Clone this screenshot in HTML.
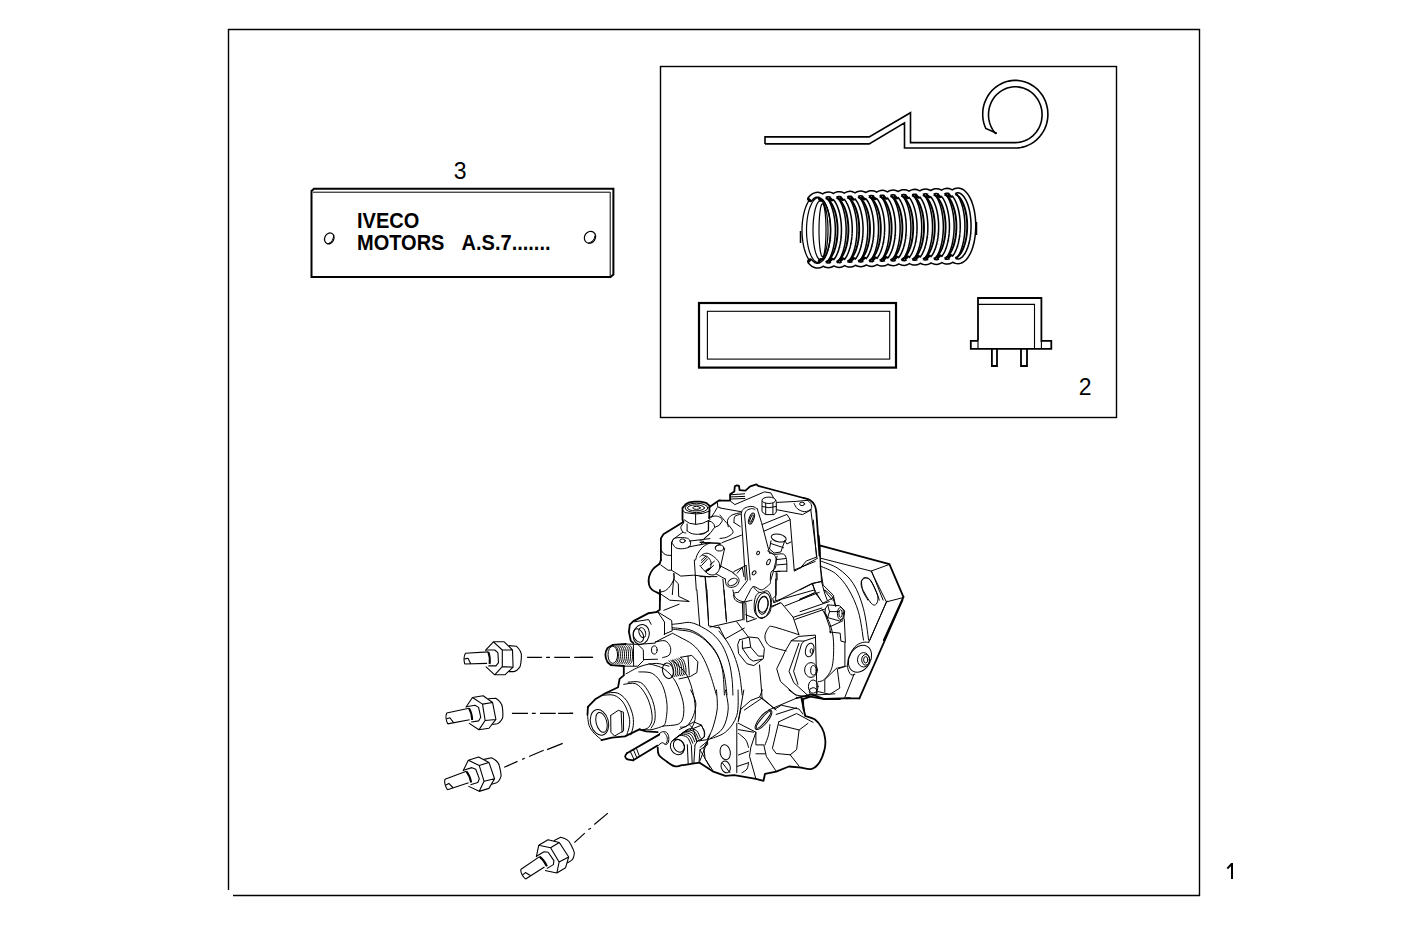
<!DOCTYPE html>
<html><head><meta charset="utf-8"><style>
html,body{margin:0;padding:0;background:#fff;}
body{width:1418px;height:945px;overflow:hidden;position:relative;}
svg{position:absolute;left:0;top:0;}
text{font-family:"Liberation Sans",sans-serif;}
</style></head><body>
<svg width="1418" height="945" viewBox="0 0 1418 945">
<g fill="none" stroke="#000" stroke-width="1.4" stroke-linejoin="miter">
<!-- outer frame -->
<path d="M228.5 890 V29.5 H1199.5 V895.5 H233"/>
<!-- box 2 -->
<rect x="660.5" y="66.5" width="456" height="351"/>
</g>
<g font-family="Liberation Sans" font-size="23" fill="#000">
<text x="1078.8" y="394.8">2</text>
<text x="453.8" y="178.7">3</text>
</g>
<path d="M1231 863 H1233 V879 H1231 Z" fill="#000"/>
<path d="M1227.3 868.6 L1231.6 864" stroke="#000" stroke-width="2" fill="none"/>

<!-- box2 contents -->
<g fill="none" stroke="#000" stroke-width="1.6" stroke-linejoin="miter">
<path d="M765 143.9 V136.9 H869.2 L910.5 112.7 V142.6 H1015.3 L1015.3 142.6 L1017.7 142.5 L1020.1 142.1 L1022.5 141.6 L1024.8 140.8 L1027.0 139.8 L1029.2 138.6 L1031.2 137.2 L1033.1 135.6 L1034.8 133.8 L1036.4 131.9 L1037.8 129.8 L1039.1 127.6 L1040.1 125.3 L1040.9 123.0 L1041.5 120.5 L1041.9 118.0 L1042.1 115.5 L1042.0 112.9 L1041.8 110.4 L1041.3 108.0 L1040.6 105.5 L1039.7 103.2 L1038.6 100.9 L1037.3 98.8 L1035.8 96.8 L1034.2 94.9 L1032.4 93.2 L1030.4 91.7 L1028.4 90.3 L1026.2 89.2 L1023.9 88.3 L1021.6 87.6 L1019.2 87.1 L1016.8 86.8 L1014.4 86.8 L1011.9 87.0 L1009.5 87.5 L1007.2 88.1 L1004.9 89.0 L1002.7 90.1 L1000.6 91.4 L998.7 92.8 L996.8 94.5 L995.1 96.3 L993.6 98.3 L992.3 100.4 L991.1 102.6 L990.2 105.0 L989.4 107.4 L988.9 109.9 L988.6 112.4 L988.5 114.9 L988.6 117.4 L989.0 119.9 L989.5 122.4 L990.3 124.8 L991.3 127.1 L992.5 129.3 L993.8 131.4 L995.4 133.4 L996.7 133.3"/>
<path d="M765 143.9 H869.2 L904.5 122.8 V148 H1015.3 L1015.3 148.0 L1018.1 147.9 L1020.9 147.5 L1023.6 146.9 L1026.3 146.0 L1028.9 144.9 L1031.4 143.6 L1033.7 142.1 L1036.0 140.3 L1038.0 138.4 L1040.0 136.3 L1041.7 134.0 L1043.2 131.6 L1044.6 129.1 L1045.7 126.4 L1046.6 123.7 L1047.3 120.8 L1047.7 118.0 L1047.9 115.1 L1047.8 112.2 L1047.6 109.3 L1047.0 106.5 L1046.3 103.7 L1045.3 100.9 L1044.1 98.3 L1042.7 95.8 L1041.0 93.5 L1039.2 91.3 L1037.3 89.2 L1035.1 87.4 L1032.8 85.7 L1030.4 84.2 L1027.9 83.0 L1025.2 82.0 L1022.5 81.2 L1019.8 80.7 L1017.0 80.4 L1014.2 80.4 L1011.4 80.6 L1008.7 81.1 L1006.0 81.8 L1003.3 82.8 L1000.8 84.0 L998.3 85.4 L996.0 87.0 L993.8 88.8 L991.8 90.8 L989.9 93.0 L988.3 95.3 L986.8 97.8 L985.6 100.4 L984.5 103.1 L983.7 105.8 L983.1 108.7 L982.8 111.5 L982.7 114.4 L982.8 117.3 L983.2 120.2 L983.8 123.0 L984.7 125.8 L985.8 128.5 L996.7 133.3"/>
</g>
<g fill="none" stroke="#000" stroke-width="1.5">
<path d="M817.50 265.70 L816.28 265.59 L815.08 265.26 L813.88 264.72 L812.71 263.96 L811.57 263.00 L810.46 261.83 L809.40 260.47 L808.39 258.92 L807.43 257.19 L806.54 255.30 L805.71 253.26 L804.96 251.07 L804.28 248.75 L803.69 246.32 L803.18 243.79 L802.76 241.17 L802.43 238.49 L802.19 235.75 L802.05 232.99 L802.00 230.20 L802.05 227.41 L802.19 224.65 L802.43 221.91 L802.76 219.23 L803.18 216.61 L803.69 214.08 L804.28 211.65 L804.96 209.33 L805.71 207.14 L806.54 205.10 L807.43 203.21 L808.39 201.48 L809.40 199.93 L810.46 198.57 L811.57 197.40 L812.71 196.44 L813.88 195.68 L815.08 195.14 L816.28 194.81 L817.50 194.70" fill="#fff" stroke="#000" stroke-width="1.3"/>
<path d="M810.22 198.86 L811.67 197.31 L813.18 196.11 L814.73 195.27 L816.31 194.80 L817.91 194.71 L819.50 195.00 L821.07 195.65 L822.60 196.67 L824.08 198.05 L825.48 199.77 L826.81 201.81 L828.03 204.15 L829.14 206.77 L830.13 209.64 L830.99 212.72 L831.70 215.99 L832.27 219.41 L832.67 222.94 L832.92 226.55 L833.00 230.20 L832.92 233.85 L832.67 237.46 L832.27 240.99 L831.70 244.41 L830.99 247.68 L830.13 250.76 L829.14 253.63 L828.03 256.25 L826.81 258.59 L825.48 260.63 L824.08 262.35 L822.60 263.73 L821.07 264.75 L819.50 265.40 L817.91 265.69 L816.31 265.60 L814.73 265.13 L813.18 264.29 L811.67 263.09 L810.22 261.54 M821.02 198.52 L822.47 196.98 L823.98 195.78 L825.53 194.94 L827.11 194.47 L828.71 194.38 L830.30 194.66 L831.87 195.32 L833.40 196.34 L834.88 197.72 L836.28 199.44 L837.61 201.48 L838.83 203.82 L839.94 206.44 L840.93 209.30 L841.79 212.39 L842.50 215.66 L843.07 219.08 L843.47 222.61 L843.72 226.22 L843.80 229.87 L843.72 233.52 L843.47 237.13 L843.07 240.66 L842.50 244.08 L841.79 247.35 L840.93 250.43 L839.94 253.30 L838.83 255.92 L837.61 258.26 L836.28 260.30 L834.88 262.02 L833.40 263.39 L831.87 264.42 L830.30 265.07 L828.71 265.36 L827.11 265.26 L825.53 264.80 L823.98 263.96 L822.47 262.76 L821.02 261.21 M831.82 198.19 L833.27 196.65 L834.78 195.45 L836.33 194.61 L837.91 194.14 L839.51 194.05 L841.10 194.33 L842.67 194.99 L844.20 196.01 L845.68 197.39 L847.08 199.11 L848.41 201.15 L849.63 203.49 L850.74 206.11 L851.73 208.97 L852.59 212.06 L853.30 215.33 L853.87 218.75 L854.27 222.28 L854.52 225.89 L854.60 229.54 L854.52 233.19 L854.27 236.80 L853.87 240.33 L853.30 243.75 L852.59 247.02 L851.73 250.10 L850.74 252.97 L849.63 255.59 L848.41 257.93 L847.08 259.97 L845.68 261.69 L844.20 263.06 L842.67 264.09 L841.10 264.74 L839.51 265.03 L837.91 264.93 L836.33 264.47 L834.78 263.63 L833.27 262.43 L831.82 260.88 M842.62 197.86 L844.07 196.32 L845.58 195.12 L847.13 194.28 L848.71 193.81 L850.31 193.72 L851.90 194.00 L853.47 194.66 L855.00 195.68 L856.48 197.06 L857.88 198.78 L859.21 200.82 L860.43 203.16 L861.54 205.78 L862.53 208.64 L863.39 211.73 L864.10 215.00 L864.67 218.41 L865.07 221.95 L865.32 225.56 L865.40 229.21 L865.32 232.86 L865.07 236.47 L864.67 240.00 L864.10 243.42 L863.39 246.69 L862.53 249.77 L861.54 252.64 L860.43 255.26 L859.21 257.60 L857.88 259.64 L856.48 261.36 L855.00 262.73 L853.47 263.76 L851.90 264.41 L850.31 264.70 L848.71 264.60 L847.13 264.14 L845.58 263.30 L844.07 262.10 L842.62 260.55 M853.42 197.53 L854.87 195.99 L856.38 194.79 L857.93 193.95 L859.51 193.48 L861.11 193.39 L862.70 193.67 L864.27 194.33 L865.80 195.35 L867.28 196.73 L868.68 198.45 L870.01 200.49 L871.23 202.83 L872.34 205.45 L873.33 208.31 L874.19 211.40 L874.90 214.66 L875.47 218.08 L875.87 221.62 L876.12 225.23 L876.20 228.88 L876.12 232.53 L875.87 236.14 L875.47 239.67 L874.90 243.09 L874.19 246.36 L873.33 249.44 L872.34 252.31 L871.23 254.92 L870.01 257.27 L868.68 259.31 L867.28 261.02 L865.80 262.40 L864.27 263.42 L862.70 264.08 L861.11 264.36 L859.51 264.27 L857.93 263.80 L856.38 262.97 L854.87 261.77 L853.42 260.22 M864.22 197.20 L865.67 195.65 L867.18 194.46 L868.73 193.62 L870.31 193.15 L871.91 193.06 L873.50 193.34 L875.07 194.00 L876.60 195.02 L878.08 196.40 L879.48 198.12 L880.81 200.16 L882.03 202.50 L883.14 205.12 L884.13 207.98 L884.99 211.07 L885.70 214.33 L886.27 217.75 L886.67 221.29 L886.92 224.90 L887.00 228.55 L886.92 232.20 L886.67 235.81 L886.27 239.34 L885.70 242.76 L884.99 246.03 L884.13 249.11 L883.14 251.98 L882.03 254.59 L880.81 256.93 L879.48 258.98 L878.08 260.69 L876.60 262.07 L875.07 263.09 L873.50 263.75 L871.91 264.03 L870.31 263.94 L868.73 263.47 L867.18 262.64 L865.67 261.44 L864.22 259.89 M875.02 196.87 L876.47 195.32 L877.98 194.12 L879.53 193.29 L881.11 192.82 L882.71 192.73 L884.30 193.01 L885.87 193.67 L887.40 194.69 L888.88 196.07 L890.28 197.79 L891.61 199.83 L892.83 202.17 L893.94 204.79 L894.93 207.65 L895.79 210.73 L896.50 214.00 L897.07 217.42 L897.47 220.96 L897.72 224.57 L897.80 228.22 L897.72 231.86 L897.47 235.47 L897.07 239.01 L896.50 242.43 L895.79 245.70 L894.93 248.78 L893.94 251.65 L892.83 254.26 L891.61 256.60 L890.28 258.64 L888.88 260.36 L887.40 261.74 L885.87 262.76 L884.30 263.42 L882.71 263.70 L881.11 263.61 L879.53 263.14 L877.98 262.31 L876.47 261.11 L875.02 259.56 M885.82 196.54 L887.27 194.99 L888.78 193.79 L890.33 192.96 L891.91 192.49 L893.51 192.40 L895.10 192.68 L896.67 193.34 L898.20 194.36 L899.68 195.74 L901.08 197.46 L902.41 199.50 L903.63 201.84 L904.74 204.45 L905.73 207.32 L906.59 210.40 L907.30 213.67 L907.87 217.09 L908.27 220.63 L908.52 224.24 L908.60 227.88 L908.52 231.53 L908.27 235.14 L907.87 238.68 L907.30 242.10 L906.59 245.37 L905.73 248.45 L904.74 251.31 L903.63 253.93 L902.41 256.27 L901.08 258.31 L899.68 260.03 L898.20 261.41 L896.67 262.43 L895.10 263.09 L893.51 263.37 L891.91 263.28 L890.33 262.81 L888.78 261.98 L887.27 260.78 L885.82 259.23 M896.62 196.21 L898.07 194.66 L899.58 193.46 L901.13 192.63 L902.71 192.16 L904.31 192.07 L905.90 192.35 L907.47 193.01 L909.00 194.03 L910.48 195.41 L911.88 197.12 L913.21 199.17 L914.43 201.51 L915.54 204.12 L916.53 206.99 L917.39 210.07 L918.10 213.34 L918.67 216.76 L919.07 220.29 L919.32 223.90 L919.40 227.55 L919.32 231.20 L919.07 234.81 L918.67 238.35 L918.10 241.77 L917.39 245.03 L916.53 248.12 L915.54 250.98 L914.43 253.60 L913.21 255.94 L911.88 257.98 L910.48 259.70 L909.00 261.08 L907.47 262.10 L905.90 262.76 L904.31 263.04 L902.71 262.95 L901.13 262.48 L899.58 261.64 L898.07 260.45 L896.62 258.90 M907.42 195.88 L908.87 194.33 L910.38 193.13 L911.93 192.30 L913.51 191.83 L915.11 191.74 L916.70 192.02 L918.27 192.68 L919.80 193.70 L921.28 195.08 L922.68 196.79 L924.01 198.83 L925.23 201.18 L926.34 203.79 L927.33 206.66 L928.19 209.74 L928.90 213.01 L929.47 216.43 L929.87 219.96 L930.12 223.57 L930.20 227.22 L930.12 230.87 L929.87 234.48 L929.47 238.02 L928.90 241.44 L928.19 244.70 L927.33 247.79 L926.34 250.65 L925.23 253.27 L924.01 255.61 L922.68 257.65 L921.28 259.37 L919.80 260.75 L918.27 261.77 L916.70 262.43 L915.11 262.71 L913.51 262.62 L911.93 262.15 L910.38 261.31 L908.87 260.11 L907.42 258.57 M918.22 195.55 L919.67 194.00 L921.18 192.80 L922.73 191.96 L924.31 191.50 L925.91 191.40 L927.50 191.69 L929.07 192.34 L930.60 193.37 L932.08 194.74 L933.48 196.46 L934.81 198.50 L936.03 200.84 L937.14 203.46 L938.13 206.33 L938.99 209.41 L939.70 212.68 L940.27 216.10 L940.67 219.63 L940.92 223.24 L941.00 226.89 L940.92 230.54 L940.67 234.15 L940.27 237.69 L939.70 241.10 L938.99 244.37 L938.13 247.46 L937.14 250.32 L936.03 252.94 L934.81 255.28 L933.48 257.32 L932.08 259.04 L930.60 260.42 L929.07 261.44 L927.50 262.10 L925.91 262.38 L924.31 262.29 L922.73 261.82 L921.18 260.98 L919.67 259.78 L918.22 258.24 M929.02 195.22 L930.47 193.67 L931.98 192.47 L933.53 191.63 L935.11 191.17 L936.71 191.07 L938.30 191.36 L939.87 192.01 L941.40 193.04 L942.88 194.41 L944.28 196.13 L945.61 198.17 L946.83 200.51 L947.94 203.13 L948.93 206.00 L949.79 209.08 L950.50 212.35 L951.07 215.77 L951.47 219.30 L951.72 222.91 L951.80 226.56 L951.72 230.21 L951.47 233.82 L951.07 237.35 L950.50 240.77 L949.79 244.04 L948.93 247.13 L947.94 249.99 L946.83 252.61 L945.61 254.95 L944.28 256.99 L942.88 258.71 L941.40 260.09 L939.87 261.11 L938.30 261.77 L936.71 262.05 L935.11 261.96 L933.53 261.49 L931.98 260.65 L930.47 259.45 L929.02 257.91 M939.82 194.89 L941.27 193.34 L942.78 192.14 L944.33 191.30 L945.91 190.84 L947.51 190.74 L949.10 191.03 L950.67 191.68 L952.20 192.71 L953.68 194.08 L955.08 195.80 L956.41 197.84 L957.63 200.18 L958.74 202.80 L959.73 205.67 L960.59 208.75 L961.30 212.02 L961.87 215.44 L962.27 218.97 L962.52 222.58 L962.60 226.23 L962.52 229.88 L962.27 233.49 L961.87 237.02 L961.30 240.44 L960.59 243.71 L959.73 246.80 L958.74 249.66 L957.63 252.28 L956.41 254.62 L955.08 256.66 L953.68 258.38 L952.20 259.76 L950.67 260.78 L949.10 261.44 L947.51 261.72 L945.91 261.63 L944.33 261.16 L942.78 260.32 L941.27 259.12 L939.82 257.58 M950.62 194.56 L952.07 193.01 L953.58 191.81 L955.13 190.97 L956.71 190.50 L958.31 190.41 L959.90 190.70 L961.47 191.35 L963.00 192.37 L964.48 193.75 L965.88 195.47 L967.21 197.51 L968.43 199.85 L969.54 202.47 L970.53 205.34 L971.39 208.42 L972.10 211.69 L972.67 215.11 L973.07 218.64 L973.32 222.25 L973.40 225.90 L973.32 229.55 L973.07 233.16 L972.67 236.69 L972.10 240.11 L971.39 243.38 L970.53 246.46 L969.54 249.33 L968.43 251.95 L967.21 254.29 L965.88 256.33 L964.48 258.05 L963.00 259.43 L961.47 260.45 L959.90 261.10 L958.31 261.39 L956.71 261.30 L955.13 260.83 L953.58 259.99 L952.07 258.79 L950.62 257.24" fill="none" stroke="#000" stroke-width="6.2" stroke-linecap="round"/>
<path d="M810.22 198.86 L811.67 197.31 L813.18 196.11 L814.73 195.27 L816.31 194.80 L817.91 194.71 L819.50 195.00 L821.07 195.65 L822.60 196.67 L824.08 198.05 L825.48 199.77 L826.81 201.81 L828.03 204.15 L829.14 206.77 L830.13 209.64 L830.99 212.72 L831.70 215.99 L832.27 219.41 L832.67 222.94 L832.92 226.55 L833.00 230.20 L832.92 233.85 L832.67 237.46 L832.27 240.99 L831.70 244.41 L830.99 247.68 L830.13 250.76 L829.14 253.63 L828.03 256.25 L826.81 258.59 L825.48 260.63 L824.08 262.35 L822.60 263.73 L821.07 264.75 L819.50 265.40 L817.91 265.69 L816.31 265.60 L814.73 265.13 L813.18 264.29 L811.67 263.09 L810.22 261.54 M821.02 198.52 L822.47 196.98 L823.98 195.78 L825.53 194.94 L827.11 194.47 L828.71 194.38 L830.30 194.66 L831.87 195.32 L833.40 196.34 L834.88 197.72 L836.28 199.44 L837.61 201.48 L838.83 203.82 L839.94 206.44 L840.93 209.30 L841.79 212.39 L842.50 215.66 L843.07 219.08 L843.47 222.61 L843.72 226.22 L843.80 229.87 L843.72 233.52 L843.47 237.13 L843.07 240.66 L842.50 244.08 L841.79 247.35 L840.93 250.43 L839.94 253.30 L838.83 255.92 L837.61 258.26 L836.28 260.30 L834.88 262.02 L833.40 263.39 L831.87 264.42 L830.30 265.07 L828.71 265.36 L827.11 265.26 L825.53 264.80 L823.98 263.96 L822.47 262.76 L821.02 261.21 M831.82 198.19 L833.27 196.65 L834.78 195.45 L836.33 194.61 L837.91 194.14 L839.51 194.05 L841.10 194.33 L842.67 194.99 L844.20 196.01 L845.68 197.39 L847.08 199.11 L848.41 201.15 L849.63 203.49 L850.74 206.11 L851.73 208.97 L852.59 212.06 L853.30 215.33 L853.87 218.75 L854.27 222.28 L854.52 225.89 L854.60 229.54 L854.52 233.19 L854.27 236.80 L853.87 240.33 L853.30 243.75 L852.59 247.02 L851.73 250.10 L850.74 252.97 L849.63 255.59 L848.41 257.93 L847.08 259.97 L845.68 261.69 L844.20 263.06 L842.67 264.09 L841.10 264.74 L839.51 265.03 L837.91 264.93 L836.33 264.47 L834.78 263.63 L833.27 262.43 L831.82 260.88 M842.62 197.86 L844.07 196.32 L845.58 195.12 L847.13 194.28 L848.71 193.81 L850.31 193.72 L851.90 194.00 L853.47 194.66 L855.00 195.68 L856.48 197.06 L857.88 198.78 L859.21 200.82 L860.43 203.16 L861.54 205.78 L862.53 208.64 L863.39 211.73 L864.10 215.00 L864.67 218.41 L865.07 221.95 L865.32 225.56 L865.40 229.21 L865.32 232.86 L865.07 236.47 L864.67 240.00 L864.10 243.42 L863.39 246.69 L862.53 249.77 L861.54 252.64 L860.43 255.26 L859.21 257.60 L857.88 259.64 L856.48 261.36 L855.00 262.73 L853.47 263.76 L851.90 264.41 L850.31 264.70 L848.71 264.60 L847.13 264.14 L845.58 263.30 L844.07 262.10 L842.62 260.55 M853.42 197.53 L854.87 195.99 L856.38 194.79 L857.93 193.95 L859.51 193.48 L861.11 193.39 L862.70 193.67 L864.27 194.33 L865.80 195.35 L867.28 196.73 L868.68 198.45 L870.01 200.49 L871.23 202.83 L872.34 205.45 L873.33 208.31 L874.19 211.40 L874.90 214.66 L875.47 218.08 L875.87 221.62 L876.12 225.23 L876.20 228.88 L876.12 232.53 L875.87 236.14 L875.47 239.67 L874.90 243.09 L874.19 246.36 L873.33 249.44 L872.34 252.31 L871.23 254.92 L870.01 257.27 L868.68 259.31 L867.28 261.02 L865.80 262.40 L864.27 263.42 L862.70 264.08 L861.11 264.36 L859.51 264.27 L857.93 263.80 L856.38 262.97 L854.87 261.77 L853.42 260.22 M864.22 197.20 L865.67 195.65 L867.18 194.46 L868.73 193.62 L870.31 193.15 L871.91 193.06 L873.50 193.34 L875.07 194.00 L876.60 195.02 L878.08 196.40 L879.48 198.12 L880.81 200.16 L882.03 202.50 L883.14 205.12 L884.13 207.98 L884.99 211.07 L885.70 214.33 L886.27 217.75 L886.67 221.29 L886.92 224.90 L887.00 228.55 L886.92 232.20 L886.67 235.81 L886.27 239.34 L885.70 242.76 L884.99 246.03 L884.13 249.11 L883.14 251.98 L882.03 254.59 L880.81 256.93 L879.48 258.98 L878.08 260.69 L876.60 262.07 L875.07 263.09 L873.50 263.75 L871.91 264.03 L870.31 263.94 L868.73 263.47 L867.18 262.64 L865.67 261.44 L864.22 259.89 M875.02 196.87 L876.47 195.32 L877.98 194.12 L879.53 193.29 L881.11 192.82 L882.71 192.73 L884.30 193.01 L885.87 193.67 L887.40 194.69 L888.88 196.07 L890.28 197.79 L891.61 199.83 L892.83 202.17 L893.94 204.79 L894.93 207.65 L895.79 210.73 L896.50 214.00 L897.07 217.42 L897.47 220.96 L897.72 224.57 L897.80 228.22 L897.72 231.86 L897.47 235.47 L897.07 239.01 L896.50 242.43 L895.79 245.70 L894.93 248.78 L893.94 251.65 L892.83 254.26 L891.61 256.60 L890.28 258.64 L888.88 260.36 L887.40 261.74 L885.87 262.76 L884.30 263.42 L882.71 263.70 L881.11 263.61 L879.53 263.14 L877.98 262.31 L876.47 261.11 L875.02 259.56 M885.82 196.54 L887.27 194.99 L888.78 193.79 L890.33 192.96 L891.91 192.49 L893.51 192.40 L895.10 192.68 L896.67 193.34 L898.20 194.36 L899.68 195.74 L901.08 197.46 L902.41 199.50 L903.63 201.84 L904.74 204.45 L905.73 207.32 L906.59 210.40 L907.30 213.67 L907.87 217.09 L908.27 220.63 L908.52 224.24 L908.60 227.88 L908.52 231.53 L908.27 235.14 L907.87 238.68 L907.30 242.10 L906.59 245.37 L905.73 248.45 L904.74 251.31 L903.63 253.93 L902.41 256.27 L901.08 258.31 L899.68 260.03 L898.20 261.41 L896.67 262.43 L895.10 263.09 L893.51 263.37 L891.91 263.28 L890.33 262.81 L888.78 261.98 L887.27 260.78 L885.82 259.23 M896.62 196.21 L898.07 194.66 L899.58 193.46 L901.13 192.63 L902.71 192.16 L904.31 192.07 L905.90 192.35 L907.47 193.01 L909.00 194.03 L910.48 195.41 L911.88 197.12 L913.21 199.17 L914.43 201.51 L915.54 204.12 L916.53 206.99 L917.39 210.07 L918.10 213.34 L918.67 216.76 L919.07 220.29 L919.32 223.90 L919.40 227.55 L919.32 231.20 L919.07 234.81 L918.67 238.35 L918.10 241.77 L917.39 245.03 L916.53 248.12 L915.54 250.98 L914.43 253.60 L913.21 255.94 L911.88 257.98 L910.48 259.70 L909.00 261.08 L907.47 262.10 L905.90 262.76 L904.31 263.04 L902.71 262.95 L901.13 262.48 L899.58 261.64 L898.07 260.45 L896.62 258.90 M907.42 195.88 L908.87 194.33 L910.38 193.13 L911.93 192.30 L913.51 191.83 L915.11 191.74 L916.70 192.02 L918.27 192.68 L919.80 193.70 L921.28 195.08 L922.68 196.79 L924.01 198.83 L925.23 201.18 L926.34 203.79 L927.33 206.66 L928.19 209.74 L928.90 213.01 L929.47 216.43 L929.87 219.96 L930.12 223.57 L930.20 227.22 L930.12 230.87 L929.87 234.48 L929.47 238.02 L928.90 241.44 L928.19 244.70 L927.33 247.79 L926.34 250.65 L925.23 253.27 L924.01 255.61 L922.68 257.65 L921.28 259.37 L919.80 260.75 L918.27 261.77 L916.70 262.43 L915.11 262.71 L913.51 262.62 L911.93 262.15 L910.38 261.31 L908.87 260.11 L907.42 258.57 M918.22 195.55 L919.67 194.00 L921.18 192.80 L922.73 191.96 L924.31 191.50 L925.91 191.40 L927.50 191.69 L929.07 192.34 L930.60 193.37 L932.08 194.74 L933.48 196.46 L934.81 198.50 L936.03 200.84 L937.14 203.46 L938.13 206.33 L938.99 209.41 L939.70 212.68 L940.27 216.10 L940.67 219.63 L940.92 223.24 L941.00 226.89 L940.92 230.54 L940.67 234.15 L940.27 237.69 L939.70 241.10 L938.99 244.37 L938.13 247.46 L937.14 250.32 L936.03 252.94 L934.81 255.28 L933.48 257.32 L932.08 259.04 L930.60 260.42 L929.07 261.44 L927.50 262.10 L925.91 262.38 L924.31 262.29 L922.73 261.82 L921.18 260.98 L919.67 259.78 L918.22 258.24 M929.02 195.22 L930.47 193.67 L931.98 192.47 L933.53 191.63 L935.11 191.17 L936.71 191.07 L938.30 191.36 L939.87 192.01 L941.40 193.04 L942.88 194.41 L944.28 196.13 L945.61 198.17 L946.83 200.51 L947.94 203.13 L948.93 206.00 L949.79 209.08 L950.50 212.35 L951.07 215.77 L951.47 219.30 L951.72 222.91 L951.80 226.56 L951.72 230.21 L951.47 233.82 L951.07 237.35 L950.50 240.77 L949.79 244.04 L948.93 247.13 L947.94 249.99 L946.83 252.61 L945.61 254.95 L944.28 256.99 L942.88 258.71 L941.40 260.09 L939.87 261.11 L938.30 261.77 L936.71 262.05 L935.11 261.96 L933.53 261.49 L931.98 260.65 L930.47 259.45 L929.02 257.91 M939.82 194.89 L941.27 193.34 L942.78 192.14 L944.33 191.30 L945.91 190.84 L947.51 190.74 L949.10 191.03 L950.67 191.68 L952.20 192.71 L953.68 194.08 L955.08 195.80 L956.41 197.84 L957.63 200.18 L958.74 202.80 L959.73 205.67 L960.59 208.75 L961.30 212.02 L961.87 215.44 L962.27 218.97 L962.52 222.58 L962.60 226.23 L962.52 229.88 L962.27 233.49 L961.87 237.02 L961.30 240.44 L960.59 243.71 L959.73 246.80 L958.74 249.66 L957.63 252.28 L956.41 254.62 L955.08 256.66 L953.68 258.38 L952.20 259.76 L950.67 260.78 L949.10 261.44 L947.51 261.72 L945.91 261.63 L944.33 261.16 L942.78 260.32 L941.27 259.12 L939.82 257.58 M950.62 194.56 L952.07 193.01 L953.58 191.81 L955.13 190.97 L956.71 190.50 L958.31 190.41 L959.90 190.70 L961.47 191.35 L963.00 192.37 L964.48 193.75 L965.88 195.47 L967.21 197.51 L968.43 199.85 L969.54 202.47 L970.53 205.34 L971.39 208.42 L972.10 211.69 L972.67 215.11 L973.07 218.64 L973.32 222.25 L973.40 225.90 L973.32 229.55 L973.07 233.16 L972.67 236.69 L972.10 240.11 L971.39 243.38 L970.53 246.46 L969.54 249.33 L968.43 251.95 L967.21 254.29 L965.88 256.33 L964.48 258.05 L963.00 259.43 L961.47 260.45 L959.90 261.10 L958.31 261.39 L956.71 261.30 L955.13 260.83 L953.58 259.99 L952.07 258.79 L950.62 257.24" fill="none" stroke="#fff" stroke-width="3.2" stroke-linecap="butt"/>
<path d="M825.62 198.04 L826.93 198.71 L828.22 199.64 L829.46 200.84 L830.64 202.29 L831.76 203.98 L832.80 205.90 L833.76 208.02 L834.63 210.34 L835.40 212.83 L836.06 215.46 L836.61 218.23 L837.04 221.09 L837.35 224.03 L837.54 227.03 L837.60 230.05 L837.54 233.07 L837.35 236.07 L837.04 239.01 L836.61 241.87 L836.06 244.64 L835.40 247.27 L834.63 249.76 L833.76 252.08 L832.80 254.20 L831.76 256.12 L830.64 257.81 L829.46 259.26 L828.22 260.46 L826.93 261.39 L825.62 262.06 M836.42 197.71 L837.73 198.38 L839.02 199.31 L840.26 200.51 L841.44 201.96 L842.56 203.65 L843.60 205.57 L844.56 207.69 L845.43 210.01 L846.20 212.50 L846.86 215.13 L847.41 217.90 L847.84 220.76 L848.15 223.70 L848.34 226.70 L848.40 229.72 L848.34 232.74 L848.15 235.73 L847.84 238.68 L847.41 241.54 L846.86 244.31 L846.20 246.94 L845.43 249.43 L844.56 251.75 L843.60 253.87 L842.56 255.79 L841.44 257.48 L840.26 258.93 L839.02 260.13 L837.73 261.06 L836.42 261.73 M847.22 197.38 L848.53 198.05 L849.82 198.98 L851.06 200.18 L852.24 201.63 L853.36 203.32 L854.40 205.24 L855.36 207.36 L856.23 209.68 L857.00 212.17 L857.66 214.80 L858.21 217.57 L858.64 220.43 L858.95 223.37 L859.14 226.37 L859.20 229.39 L859.14 232.41 L858.95 235.40 L858.64 238.35 L858.21 241.21 L857.66 243.97 L857.00 246.61 L856.23 249.10 L855.36 251.41 L854.40 253.54 L853.36 255.46 L852.24 257.15 L851.06 258.60 L849.82 259.80 L848.53 260.73 L847.22 261.39 M858.02 197.05 L859.33 197.71 L860.62 198.65 L861.86 199.85 L863.04 201.30 L864.16 202.99 L865.20 204.91 L866.16 207.03 L867.03 209.35 L867.80 211.84 L868.46 214.47 L869.01 217.23 L869.44 220.10 L869.75 223.04 L869.94 226.04 L870.00 229.06 L869.94 232.08 L869.75 235.07 L869.44 238.02 L869.01 240.88 L868.46 243.64 L867.80 246.28 L867.03 248.77 L866.16 251.08 L865.20 253.21 L864.16 255.13 L863.04 256.82 L861.86 258.27 L860.62 259.47 L859.33 260.40 L858.02 261.06 M868.82 196.72 L870.13 197.38 L871.42 198.32 L872.66 199.52 L873.84 200.97 L874.96 202.66 L876.00 204.57 L876.96 206.70 L877.83 209.02 L878.60 211.50 L879.26 214.14 L879.81 216.90 L880.24 219.77 L880.55 222.71 L880.74 225.71 L880.80 228.73 L880.74 231.75 L880.55 234.74 L880.24 237.69 L879.81 240.55 L879.26 243.31 L878.60 245.95 L877.83 248.44 L876.96 250.75 L876.00 252.88 L874.96 254.80 L873.84 256.49 L872.66 257.94 L871.42 259.14 L870.13 260.07 L868.82 260.73 M879.62 196.39 L880.93 197.05 L882.22 197.99 L883.46 199.19 L884.64 200.64 L885.76 202.33 L886.80 204.24 L887.76 206.37 L888.63 208.69 L889.40 211.17 L890.06 213.81 L890.61 216.57 L891.04 219.44 L891.35 222.38 L891.54 225.38 L891.60 228.40 L891.54 231.42 L891.35 234.41 L891.04 237.35 L890.61 240.22 L890.06 242.98 L889.40 245.62 L888.63 248.11 L887.76 250.42 L886.80 252.55 L885.76 254.47 L884.64 256.16 L883.46 257.61 L882.22 258.80 L880.93 259.74 L879.62 260.40 M890.42 196.06 L891.73 196.72 L893.02 197.66 L894.26 198.85 L895.44 200.31 L896.56 202.00 L897.60 203.91 L898.56 206.04 L899.43 208.36 L900.20 210.84 L900.86 213.48 L901.41 216.24 L901.84 219.11 L902.15 222.05 L902.34 225.04 L902.40 228.07 L902.34 231.09 L902.15 234.08 L901.84 237.02 L901.41 239.89 L900.86 242.65 L900.20 245.29 L899.43 247.78 L898.56 250.09 L897.60 252.22 L896.56 254.13 L895.44 255.83 L894.26 257.28 L893.02 258.47 L891.73 259.41 L890.42 260.07 M901.22 195.73 L902.53 196.39 L903.82 197.33 L905.06 198.52 L906.24 199.97 L907.36 201.67 L908.40 203.58 L909.36 205.71 L910.23 208.02 L911.00 210.51 L911.66 213.15 L912.21 215.91 L912.64 218.78 L912.95 221.72 L913.14 224.71 L913.20 227.73 L913.14 230.76 L912.95 233.75 L912.64 236.69 L912.21 239.56 L911.66 242.32 L911.00 244.96 L910.23 247.44 L909.36 249.76 L908.40 251.89 L907.36 253.80 L906.24 255.49 L905.06 256.95 L903.82 258.14 L902.53 259.08 L901.22 259.74 M912.02 195.40 L913.33 196.06 L914.62 197.00 L915.86 198.19 L917.04 199.64 L918.16 201.33 L919.20 203.25 L920.16 205.38 L921.03 207.69 L921.80 210.18 L922.46 212.82 L923.01 215.58 L923.44 218.45 L923.75 221.39 L923.94 224.38 L924.00 227.40 L923.94 230.42 L923.75 233.42 L923.44 236.36 L923.01 239.23 L922.46 241.99 L921.80 244.63 L921.03 247.11 L920.16 249.43 L919.20 251.56 L918.16 253.47 L917.04 255.16 L915.86 256.61 L914.62 257.81 L913.33 258.75 L912.02 259.41 M922.82 195.07 L924.13 195.73 L925.42 196.66 L926.66 197.86 L927.84 199.31 L928.96 201.00 L930.00 202.92 L930.96 205.05 L931.83 207.36 L932.60 209.85 L933.26 212.49 L933.81 215.25 L934.24 218.11 L934.55 221.06 L934.74 224.05 L934.80 227.07 L934.74 230.09 L934.55 233.09 L934.24 236.03 L933.81 238.90 L933.26 241.66 L932.60 244.30 L931.83 246.78 L930.96 249.10 L930.00 251.23 L928.96 253.14 L927.84 254.83 L926.66 256.28 L925.42 257.48 L924.13 258.42 L922.82 259.08 M933.62 194.74 L934.93 195.40 L936.22 196.33 L937.46 197.53 L938.64 198.98 L939.76 200.67 L940.80 202.59 L941.76 204.72 L942.63 207.03 L943.40 209.52 L944.06 212.16 L944.61 214.92 L945.04 217.78 L945.35 220.73 L945.54 223.72 L945.60 226.74 L945.54 229.76 L945.35 232.76 L945.04 235.70 L944.61 238.57 L944.06 241.33 L943.40 243.96 L942.63 246.45 L941.76 248.77 L940.80 250.89 L939.76 252.81 L938.64 254.50 L937.46 255.95 L936.22 257.15 L934.93 258.09 L933.62 258.75 M944.42 194.41 L945.73 195.07 L947.02 196.00 L948.26 197.20 L949.44 198.65 L950.56 200.34 L951.60 202.26 L952.56 204.39 L953.43 206.70 L954.20 209.19 L954.86 211.83 L955.41 214.59 L955.84 217.45 L956.15 220.40 L956.34 223.39 L956.40 226.41 L956.34 229.43 L956.15 232.43 L955.84 235.37 L955.41 238.23 L954.86 241.00 L954.20 243.63 L953.43 246.12 L952.56 248.44 L951.60 250.56 L950.56 252.48 L949.44 254.17 L948.26 255.62 L947.02 256.82 L945.73 257.75 L944.42 258.42 M955.22 194.07 L956.53 194.74 L957.82 195.67 L959.06 196.87 L960.24 198.32 L961.36 200.01 L962.40 201.93 L963.36 204.05 L964.23 206.37 L965.00 208.86 L965.66 211.49 L966.21 214.26 L966.64 217.12 L966.95 220.07 L967.14 223.06 L967.20 226.08 L967.14 229.10 L966.95 232.10 L966.64 235.04 L966.21 237.90 L965.66 240.67 L965.00 243.30 L964.23 245.79 L963.36 248.11 L962.40 250.23 L961.36 252.15 L960.24 253.84 L959.06 255.29 L957.82 256.49 L956.53 257.42 L955.22 258.09" fill="none" stroke="#000" stroke-width="1.9"/>
<path d="M830.50 230.20 L830.41 234.27 L830.12 238.28 L829.66 242.16 L829.02 245.86 L828.21 249.30 L827.25 252.45 L826.15 255.24 L824.93 257.64 L823.61 259.61 L822.21 261.11 L820.75 262.12 L819.25 262.64 L817.75 262.64 L816.25 262.12 L814.79 261.11 L813.39 259.61 L812.07 257.64 L810.85 255.24 L809.75 252.45 L808.79 249.30 L807.98 245.86 L807.34 242.16 L806.88 238.28 L806.59 234.27 L806.50 230.20 L806.59 226.13 L806.88 222.12 L807.34 218.24 L807.98 214.54 L808.79 211.10 L809.75 207.95 L810.85 205.16 L812.07 202.76 L813.39 200.79 L814.79 199.29 L816.25 198.28 L817.75 197.76 L819.25 197.76 L820.75 198.28 L822.21 199.29 L823.61 200.79 L824.93 202.76 L826.15 205.16 L827.25 207.95 L828.21 211.10 L829.02 214.54 L829.66 218.24 L830.12 222.12 L830.41 226.13 L830.50 230.20 M828.00 230.20 L827.94 233.90 L827.76 237.54 L827.47 241.06 L827.07 244.41 L826.57 247.54 L825.97 250.39 L825.28 252.93 L824.52 255.11 L823.69 256.89 L822.82 258.26 L821.91 259.18 L820.97 259.64 L820.03 259.64 L819.09 259.18 L818.18 258.26 L817.31 256.89 L816.48 255.11 L815.72 252.93 L815.03 250.39 L814.43 247.54 L813.93 244.41 L813.53 241.06 L813.24 237.54 L813.06 233.90 L813.00 230.20 L813.06 226.50 L813.24 222.86 L813.53 219.34 L813.93 215.99 L814.43 212.86 L815.03 210.01 L815.72 207.47 L816.48 205.29 L817.31 203.51 L818.18 202.14 L819.09 201.22 L820.03 200.76 L820.97 200.76 L821.91 201.22 L822.82 202.14 L823.69 203.51 L824.52 205.29 L825.28 207.47 L825.97 210.01 L826.57 212.86 L827.07 215.99 L827.47 219.34 L827.76 222.86 L827.94 226.50 L828.00 230.20 M826.00 230.20 L825.97 233.52 L825.89 236.79 L825.75 239.96 L825.57 242.97 L825.33 245.78 L825.05 248.34 L824.73 250.62 L824.38 252.57 L823.99 254.18 L823.58 255.40 L823.16 256.23 L822.72 256.65 L822.28 256.65 L821.84 256.23 L821.42 255.40 L821.01 254.18 L820.62 252.57 L820.27 250.62 L819.95 248.34 L819.67 245.78 L819.43 242.97 L819.25 239.96 L819.11 236.79 L819.03 233.52 L819.00 230.20 L819.03 226.88 L819.11 223.61 L819.25 220.44 L819.43 217.43 L819.67 214.62 L819.95 212.06 L820.27 209.78 L820.62 207.83 L821.01 206.22 L821.42 205.00 L821.84 204.17 L822.28 203.75 L822.72 203.75 L823.16 204.17 L823.58 205.00 L823.99 206.22 L824.38 207.83 L824.73 209.78 L825.05 212.06 L825.33 214.62 L825.57 217.43 L825.75 220.44 L825.89 223.61 L825.97 226.88 L826.00 230.20" fill="none" stroke="#000" stroke-width="1.2"/>
<path d="M800.5 231 V243 M976.5 222 V235" stroke="#000" stroke-width="1.5" fill="none"/>
</g>
<g fill="none" stroke="#000">
<rect x="699" y="303" width="197" height="64.6" stroke-width="2.2"/>
<rect x="707.4" y="311.3" width="182.3" height="47.8" stroke-width="1.1"/>
<path d="M978 340.8 V298 H1041.4 V340.8 H1051.3 V348.9 H970.8 V340.8 H978 M991.9 348.9 V366 H997 V348.9 M1021 348.9 V366 H1027 V348.9" stroke-width="1.8"/>
<path d="M978 304.4 H1034.5 V348.9 M978 340.8 V348.9 M1041.4 340.8 V348.9" stroke-width="1.1"/>
</g>
<!-- plate 3 -->
<g fill="none" stroke="#000">
<path d="M311.5 277 V191 L314 188.8 H613.4 V274.5 L610.5 277 Z" stroke-width="2"/>
<path d="M313 192.2 H610.2 V277" stroke-width="1"/>
<ellipse cx="329.3" cy="238.4" rx="4.6" ry="5.6" transform="rotate(25 329.3 238.4)" stroke-width="1.2"/>
<ellipse cx="590" cy="237.3" rx="5.4" ry="6.2" transform="rotate(35 590 237.3)" stroke-width="1.2"/>
<path d="M595 235.6 Q594.5 241.5 588 243.4" stroke-width="1"/>
<path d="M333.8 234.8 Q333.5 242 327.4 244.1" stroke-width="1"/>
</g>
<g font-family="Liberation Sans" font-weight="bold" font-size="21.3" fill="#000">
<text transform="translate(357 227.9) scale(0.94 1)">IVECO</text>
<text transform="translate(357 249.8) scale(0.94 1)">MOTORS</text>
<text transform="translate(461.6 249.8) scale(0.94 1)">A.S.7.......</text>
</g>
<!--PUMP-->
<g id="pump" fill="none" stroke="#000" stroke-linejoin="round" stroke-linecap="round">
<g stroke-width="1.8">
<path d="M720.0 500.6 L730.1 500.6 L730.1 494.3 L734.3 491.6 L734.8 486.3 L736.9 485.3 L739.0 485.8 L739.6 490.1 L745.4 490.6 L750.2 486.3 L756.5 484.4 L758.1 485.8 L803.6 498.0"/>
<path d="M803.6 498.0 C804.7 498.3 808.1 498.9 809.9 500.1 C811.8 501.3 813.7 503.5 814.7 505.4 C815.8 507.3 816.0 510.7 816.3 511.7"/>
<path d="M816.3 511.7 L819.5 555.7"/>
<path d="M660.9 560.0 L660.9 538.4 L663.4 534.2 L683.3 521.9"/>
<path d="M683.3 521.9 L682.5 519.8 L682.5 507.9 L685.9 504.1 L689.3 502.4 L694.3 501.6 L700.3 501.6 L706.2 502.9 L710.0 506.2"/>
<path d="M660.9 560.0 L659.6 563.8"/>
<path d="M659.6 563.8 C658.5 564.7 654.6 567.1 652.9 569.3 C651.1 571.5 649.7 574.4 649.0 576.9 C648.4 579.5 648.6 582.4 649.0 584.6 C649.5 586.7 650.2 588.1 652.0 589.6 C653.8 591.2 658.5 593.2 659.8 593.9"/>
<path d="M659.8 593.9 L660.1 599.8"/>
<path d="M705.9 571.3 L709.3 568.8"/>
<path d="M709.5 507.1 L717.1 501.7 L719.0 500.5 L720.2 500.3"/>
<path d="M709.5 507.1 L709.2 518.2"/>
<path d="M818.7 535.9 L819.5 545.4 L889.4 564.1 L903.4 596.9"/>
<path d="M660.0 590.0 L659.8 609.7 L656.2 612.2 L648.6 613.1 L633.4 621.1 L629.8 624.6 L628.9 631.9 L630.8 640.8 L633.4 643.1"/>
<path d="M612.8 644.9 C611.9 645.5 608.5 646.8 607.3 648.4 C606.1 650.1 605.4 652.6 605.4 654.8 C605.4 657.0 606.4 660.0 607.3 661.8 C608.3 663.5 610.5 664.6 611.1 665.2"/>
<path d="M612.8 644.9 L625.7 644.0"/>
<path d="M611.1 665.2 L623.8 666.0"/>
<path d="M623.8 666.0 L623.8 675.4 L619.6 678.9 L618.1 687.2 L605.4 693.2 L595.2 699.3 L587.9 706.9"/>
<path d="M796.4 698.2 L811.6 694.4 L824.3 699.0 L850.0 698.2"/>
<path d="M801.5 698.2 L804.0 710.1"/>
<path d="M903.5 596.9 L883.8 640.1"/>
<path d="M902.5 600.0 L859.4 698.4"/>
<path d="M846.5 698.4 L859.4 698.4"/>
<path d="M587.9 706.9 L587.5 714.8"/>
<path d="M601.5 740.2 L611.9 737.6 L624.9 736.4 L639.9 729.1"/>
<path d="M639.9 729.6 L646.2 731.3 L657.7 732.2"/>
<path d="M657.7 747.4 C657.9 748.7 657.4 752.7 658.9 755.0 C660.4 757.4 664.0 759.5 666.6 761.4 C669.1 763.3 671.8 765.6 674.4 766.2 C677.0 766.9 679.3 765.6 682.1 765.2 C684.8 764.8 688.0 764.4 690.9 763.9 C693.9 763.5 698.4 762.9 699.8 762.7"/>
<path d="M700.0 763.0 L712.7 771.3 L725.4 775.8 L734.3 775.1 L755.9 778.9 L763.5 780.8 L765.0 773.8 L776.2 771.6 L788.9 766.5 L801.6 767.7"/>
<path d="M801.6 767.7 C803.3 767.9 808.8 769.7 811.8 768.8 C814.8 767.9 817.3 765.6 819.4 762.4 C821.5 759.2 823.5 753.7 824.5 749.7 C825.5 745.7 825.6 741.9 825.1 738.3 C824.7 734.7 823.7 731.2 822.0 728.1 C820.3 725.0 817.7 721.5 815.0 719.5 C812.2 717.5 807.0 716.6 805.4 716.0"/>
<path d="M805.4 716.0 L803.5 709.1 L802.9 699.1 L810.5 696.6 L824.5 699.1 L840.0 699.1"/>
<path d="M626.9 753.2 L659.2 734.6"/>
<path d="M633.2 760.3 L657.5 745.6"/>
<path d="M626.9 753.2 C626.6 753.7 625.2 755.2 625.2 756.2 C625.2 757.2 625.6 758.4 626.9 759.1 C628.2 759.8 632.1 760.1 633.2 760.3"/>
</g>
<g stroke-width="1.0">
<path d="M730.6 501.2 L734.8 504.6 L764.4 491.9 L770.8 492.9 L773.4 497.5"/>
<path d="M730.6 494.8 L744.6 493.8"/>
<path d="M730.6 496.9 L744.6 496.4"/>
<path d="M731.1 499.0 L744.9 498.5"/>
<path d="M741.2 513.9 C741.4 513.2 741.7 510.8 742.8 509.6 C743.8 508.5 745.8 507.5 747.5 507.0 C749.2 506.5 751.2 506.2 752.8 506.5 C754.4 506.8 756.5 508.4 757.2 508.8"/>
<path d="M741.2 513.9 L745.4 580.0"/>
<path d="M744.6 514.9 C744.9 514.2 745.3 511.7 746.5 510.7 C747.7 509.6 750.3 508.7 751.7 508.6 C753.2 508.4 754.4 509.5 754.9 509.6"/>
<path d="M744.6 514.9 L750.2 580.0"/>
<path d="M757.2 508.8 L761.5 522.5 L769.5 553.0"/>
<ellipse  cx="751.5" cy="518.6" rx="2.3" ry="5.8" transform="rotate(22 751.5 518.6)"/>
<ellipse  cx="751.5" cy="518.6" rx="1.1" ry="4.0" transform="rotate(22 751.5 518.6)"/>
<ellipse  cx="758.1" cy="553.0" rx="1.3" ry="1.9" transform="rotate(30 758.1 553.0)"/>
<ellipse  cx="768.5" cy="562.0" rx="1.5" ry="3.0" transform="rotate(25 768.5 562.0)"/>
<ellipse  cx="754.1" cy="572.8" rx="1.5" ry="2.3" transform="rotate(40 754.1 572.8)"/>
<path d="M769.5 553.0 C770.4 553.2 772.7 554.1 775.0 554.3 C777.4 554.5 781.6 553.2 783.5 554.1 C785.4 555.0 785.9 556.7 786.5 559.6 C787.0 562.4 786.8 569.3 786.9 571.2"/>
<path d="M776.3 559.6 L785.8 558.5"/>
<path d="M777.1 564.9 L786.7 564.1"/>
<path d="M777.1 571.2 L786.7 571.2"/>
<path d="M777.1 556.2 C776.8 557.6 775.7 561.8 775.0 564.7 C774.3 567.5 773.6 570.6 772.9 573.1 C772.2 575.7 771.1 578.9 770.8 580.0"/>
<path d="M777.1 573.1 L777.1 580.0"/>
<ellipse  cx="768.9" cy="500.3" rx="6.9" ry="3.2" transform="rotate(0 768.9 500.3)"/>
<path d="M762.0 501.2 L762.0 511.7 L765.5 514.6 L774.2 514.6 L776.3 512.0 L776.3 501.7"/>
<path d="M762.3 506.5 L768.9 507.7 L775.9 506.5"/>
<path d="M765.7 503.1 L765.7 514.1"/>
<path d="M772.9 503.1 L772.9 514.1"/>
<path d="M777.1 502.4 L796.2 501.4 L808.0 500.3"/>
<path d="M777.1 509.8 L802.5 514.6 L811.2 509.8"/>
<path d="M794.1 503.5 C794.6 504.4 795.7 507.4 797.5 508.8 C799.2 510.2 802.4 511.7 804.7 511.7 C806.9 511.7 810.2 510.2 811.2 508.8 C812.2 507.4 811.4 504.9 810.8 503.5 C810.2 502.1 808.3 501.1 807.8 500.6"/>
<ellipse  cx="802.1" cy="503.9" rx="2.5" ry="1.7" transform="rotate(0 802.1 503.9)"/>
<path d="M810.8 509.8 L817.1 558.8"/>
<path d="M762.3 524.4 L786.9 514.4 L790.1 519.4 L794.3 571.2 L816.5 558.8"/>
<path d="M764.4 531.0 L790.1 519.7"/>
<path d="M794.3 569.9 L815.2 561.5"/>
<ellipse  cx="778.7" cy="538.0" rx="7.6" ry="3.8" transform="rotate(12 778.7 538.0)"/>
<path d="M771.0 540.8 L769.5 549.0 L774.2 553.0 L780.8 552.0 L784.8 540.8"/>
<path d="M784.8 540.8 L786.9 544.0 L791.1 541.9"/>
<path d="M770.8 543.5 L783.5 547.7"/>
<path d="M720.0 508.0 L741.2 511.7"/>
<path d="M728.3 526.8 C728.1 525.7 727.0 522.2 727.6 520.2 C728.2 518.3 729.7 516.4 731.9 515.1 C734.0 513.9 738.9 513.2 740.3 512.8"/>
<path d="M734.0 522.5 C734.1 521.5 733.8 517.9 734.8 516.5 C735.9 515.1 739.4 514.7 740.3 514.4"/>
<path d="M734.0 522.5 L740.3 526.6"/>
<path d="M720.0 515.1 C720.7 516.0 722.5 518.1 724.4 520.4 C726.4 522.7 730.3 526.8 731.6 528.9 C733.0 531.0 733.6 531.7 732.7 533.1 C731.8 534.5 728.5 536.5 726.3 537.4 C724.2 538.2 721.1 538.2 720.0 538.4"/>
<path d="M722.1 542.6 L741.4 535.2"/>
<ellipse  cx="696.5" cy="507.9" rx="11.4" ry="4.7" transform="rotate(0 696.5 507.9)"/>
<ellipse  cx="696.0" cy="507.9" rx="8.5" ry="3.0" transform="rotate(0 696.0 507.9)"/>
<ellipse  cx="696.5" cy="507.9" rx="3.8" ry="1.5" transform="rotate(0 696.5 507.9)"/>
<path d="M682.9 510.5 L685.0 512.6 L691.0 513.4 L696.0 513.9 L702.8 513.4 L710.0 510.9"/>
<path d="M695.6 513.9 L695.6 524.0"/>
<path d="M684.2 519.8 L689.3 523.2 L696.0 524.4 L702.8 523.2 L710.0 519.8"/>
<path d="M687.1 524.0 L687.1 530.8"/>
<path d="M687.1 530.8 C687.8 531.2 689.2 532.7 691.0 533.3 C692.7 533.9 695.5 534.4 697.7 534.3 C700.0 534.3 702.7 533.5 704.5 532.9 C706.3 532.3 707.7 531.1 708.3 530.8"/>
<path d="M708.3 530.8 L708.3 521.5"/>
<path d="M683.5 523.2 C683.1 523.9 680.9 525.9 680.8 527.4 C680.7 528.9 682.1 531.1 682.9 532.1 C683.8 533.0 685.4 532.8 685.9 532.9"/>
<path d="M682.9 532.1 L673.2 539.3 L671.5 542.6 L671.5 560.0"/>
<path d="M671.9 542.6 C672.3 542.0 672.5 539.4 674.0 538.6 C675.5 537.7 678.5 537.6 680.8 537.6 C683.1 537.5 685.9 537.7 687.6 538.4 C689.2 539.1 690.2 540.4 690.5 541.8 C690.8 543.2 690.6 545.7 689.3 546.9 C687.9 548.0 684.7 548.6 682.5 548.7 C680.2 548.9 677.5 548.7 675.7 547.7 C674.0 546.7 672.5 543.5 671.9 542.6"/>
<ellipse  cx="682.5" cy="540.8" rx="2.7" ry="1.9" transform="rotate(0 682.5 540.8)"/>
<path d="M689.3 541.1 L703.7 539.4 L710.0 538.6"/>
<path d="M688.4 547.0 L710.0 542.8"/>
<path d="M703.7 539.4 L710.0 533.5"/>
<path d="M710.0 542.8 C708.8 543.5 704.9 545.2 702.8 547.0 C700.8 548.9 698.9 551.5 697.7 553.7 C696.5 555.8 696.0 558.9 695.6 560.0"/>
<path d="M661.3 550.3 C661.7 550.8 662.8 552.8 663.9 553.7 C664.9 554.5 666.4 555.1 667.7 555.3 C668.9 555.6 670.8 555.3 671.5 555.3"/>
<path d="M660.9 565.1 L668.1 570.2 L671.5 570.2 L671.5 560.0"/>
<path d="M671.5 570.2 L680.8 576.1 L693.5 575.2 L710.0 576.9"/>
<path d="M659.6 592.2 C660.6 591.9 663.7 591.6 665.6 590.5 C667.4 589.3 669.2 587.4 670.6 585.4 C672.0 583.4 673.5 580.6 674.0 578.6 C674.5 576.6 673.7 574.4 673.6 573.5"/>
<path d="M674.0 573.5 L674.0 579.5 L678.3 583.7 L678.7 596.4 L689.3 601.5 L669.8 600.2 L660.5 593.9"/>
<path d="M673.6 579.5 L672.3 594.7"/>
<path d="M694.3 560.0 L696.3 590.0"/>
<path d="M705.3 576.9 L706.6 590.0"/>
<path d="M700.0 556.9 C700.6 556.4 702.0 554.5 703.4 554.0 C704.8 553.4 706.5 552.9 708.5 553.5 C710.4 554.2 713.4 556.1 715.2 557.8 C717.1 559.5 718.9 561.6 719.5 563.7 C720.1 565.8 719.6 568.6 718.8 570.5 C717.9 572.3 716.1 574.1 714.4 574.7 C712.7 575.3 710.4 575.0 708.5 574.0 C706.5 573.0 704.0 570.2 702.5 568.8 C701.1 567.3 700.4 566.0 700.0 565.4"/>
<path d="M702.5 555.2 C703.4 555.5 706.2 555.8 707.6 556.9 C709.0 558.1 710.6 560.2 711.0 562.0 C711.4 563.8 710.9 566.7 710.2 567.9 C709.5 569.2 707.3 569.3 706.8 569.6"/>
<path d="M701.3 560.3 L705.9 556.1"/>
<path d="M701.3 562.9 L706.8 557.4"/>
<path d="M701.7 565.4 L707.6 559.0"/>
<path d="M710.2 564.6 L714.4 561.2"/>
<path d="M708.5 570.5 L713.5 565.4"/>
<path d="M719.5 565.4 L733.9 573.0"/>
<path d="M716.1 573.9 L725.4 579.1"/>
<path d="M725.4 579.1 C725.6 580.1 725.5 583.5 726.4 584.9 C727.3 586.3 729.0 587.3 730.6 587.4 C732.3 587.5 735.2 586.8 736.6 585.7 C738.0 584.6 739.0 582.2 739.1 580.6 C739.2 579.1 738.3 577.6 737.2 576.4 C736.2 575.2 733.7 573.7 733.0 573.2"/>
<ellipse  cx="732.6" cy="581.9" rx="5.1" ry="3.2" transform="rotate(-30 732.6 581.9)"/>
<path d="M746.1 565.4 L747.4 580.6 L738.1 592.5"/>
<path d="M738.1 592.5 C737.4 592.7 734.4 592.4 733.9 593.5 C733.3 594.6 733.7 597.7 734.7 599.3 C735.7 600.8 738.2 602.1 739.8 602.6 C741.3 603.2 743.3 602.8 744.0 602.8"/>
<path d="M744.0 602.8 L744.0 620.0"/>
<path d="M767.7 551.0 C768.7 551.6 772.2 553.0 773.7 554.4 C775.1 555.8 775.9 557.2 776.2 559.5 C776.5 561.7 776.2 565.8 775.3 567.9 C774.5 570.1 772.0 570.2 771.1 572.2 C770.3 574.1 770.4 578.0 770.3 579.8 C770.1 581.6 771.0 581.9 770.3 583.2 C769.6 584.4 767.6 586.3 766.0 587.4 C764.5 588.5 763.1 590.1 761.0 589.9 C758.8 589.8 755.4 585.9 753.3 586.6 C751.2 587.3 749.8 591.5 748.3 594.2 C746.7 596.9 744.7 601.2 744.0 602.6"/>
<path d="M753.3 586.6 C754.3 587.5 756.9 591.8 759.3 592.5 C761.7 593.2 765.7 589.8 767.7 591.0 C769.7 592.1 771.0 595.6 771.3 599.3 C771.6 602.9 771.3 609.7 769.6 612.8 C767.9 615.9 763.4 617.9 761.0 617.9 C758.6 617.9 756.3 615.2 755.2 613.0 C754.1 610.7 754.1 607.2 754.2 604.3 C754.3 601.5 755.0 597.8 755.9 595.9 C756.7 593.9 758.7 593.1 759.3 592.5"/>
<ellipse  cx="763.1" cy="604.5" rx="4.9" ry="7.8" transform="rotate(10 763.1 604.5)"/>
<path d="M700.0 576.6 L716.9 576.6"/>
<path d="M705.1 577.4 L708.5 620.0"/>
<path d="M722.9 579.1 L726.4 620.0"/>
<path d="M745.7 614.7 L754.2 618.1"/>
<path d="M774.5 571.5 L780.0 571.5"/>
<path d="M776.2 572.3 L776.2 595.2 L772.8 598.6 L773.7 602.8 L780.0 600.3"/>
<path d="M772.0 607.0 L780.0 602.8"/>
<path d="M700.0 542.5 L719.5 543.4"/>
<ellipse  cx="719.5" cy="548.0" rx="4.2" ry="3.0" transform="rotate(0 719.5 548.0)"/>
<path d="M724.6 548.5 L720.3 567.9"/>
<path d="M733.9 571.5 L745.7 565.6"/>
<path d="M737.2 573.2 L742.3 567.3 L744.0 576.6"/>
<path d="M717.4 502.7 L717.8 507.1 L720.0 507.4"/>
<path d="M717.1 507.8 L714.6 512.2 L710.8 517.9"/>
<path d="M708.9 517.3 C710.0 517.1 713.9 515.9 715.9 516.0 C717.9 516.1 719.9 517.2 720.9 517.9 C722.0 518.7 722.0 520.0 722.2 520.5"/>
<path d="M722.2 521.1 L719.0 525.5 L714.6 527.4 L710.8 532.5 L703.8 538.9"/>
<path d="M708.2 521.1 L711.4 521.7 L714.0 524.3 L714.6 526.8"/>
<path d="M708.6 521.7 L708.6 530.6 L703.8 533.8 L700.0 534.4"/>
<path d="M700.0 540.8 L703.8 541.4 L700.0 545.2"/>
<path d="M703.8 542.7 L720.3 543.3"/>
<path d="M715.2 547.1 L717.8 545.2 L720.9 543.9"/>
<path d="M775.7 579.1 L775.7 600.1"/>
<path d="M871.6 571.2 L883.1 600.1"/>
<path d="M861.5 581.6 C861.9 581.0 862.5 578.0 864.0 577.8 C865.5 577.6 868.1 577.6 870.4 580.4 C872.6 583.1 875.9 591.1 877.4 594.3 C878.8 597.6 878.9 599.1 879.3 600.1"/>
<path d="M861.5 581.6 C861.7 583.1 861.7 587.5 862.7 590.5 C863.8 593.6 867.0 598.5 867.8 600.1"/>
<path d="M819.5 545.4 L821.5 581.6 L824.6 593.1 L827.2 600.1"/>
<path d="M778.9 600.1 L811.9 583.5 L820.8 581.6"/>
<path d="M799.2 600.1 L813.8 593.1"/>
<path d="M811.9 583.5 L815.7 591.8 L820.8 600.1"/>
<path d="M823.4 589.3 L832.3 600.1"/>
<ellipse  cx="654.3" cy="650.0" rx="2.8" ry="4.1" transform="rotate(0 654.3 650.0)"/>
<path d="M615.6 646.3 C615.9 646.7 617.1 647.4 617.6 648.8 C618.1 650.3 618.4 652.9 618.4 654.9 C618.4 657.0 618.1 659.6 617.6 661.0 C617.1 662.5 615.9 663.1 615.6 663.6"/>
<path d="M617.6 646.2 C617.9 646.6 619.2 647.4 619.6 648.8 C620.1 650.3 620.4 652.9 620.4 654.9 C620.4 657.0 620.1 659.6 619.6 661.0 C619.2 662.5 617.9 663.2 617.6 663.7"/>
<path d="M619.6 646.0 C620.0 646.5 621.2 647.2 621.7 648.7 C622.1 650.2 622.4 652.8 622.4 654.9 C622.4 657.0 622.1 659.7 621.7 661.1 C621.2 662.6 620.0 663.4 619.6 663.8"/>
<path d="M621.7 646.0 C622.0 646.5 623.2 647.2 623.7 648.7 C624.2 650.2 624.5 652.8 624.5 654.9 C624.5 657.0 624.2 659.7 623.7 661.1 C623.2 662.6 622.0 663.4 621.7 663.8"/>
<path d="M623.7 645.9 C624.0 646.3 625.3 647.1 625.7 648.6 C626.2 650.1 626.5 652.8 626.5 654.9 C626.5 657.0 626.2 659.8 625.7 661.3 C625.3 662.8 624.0 663.5 623.7 663.9"/>
<path d="M625.7 645.8 C626.1 646.2 627.3 647.0 627.8 648.6 C628.2 650.1 628.5 652.8 628.5 654.9 C628.5 657.0 628.2 659.7 627.8 661.3 C627.3 662.8 626.1 663.6 625.7 664.1"/>
<path d="M627.8 645.6 C628.1 646.1 629.3 646.9 629.8 648.4 C630.3 650.0 630.6 652.8 630.6 654.9 C630.6 657.1 630.3 659.9 629.8 661.4 C629.3 662.9 628.1 663.7 627.8 664.2"/>
<path d="M629.8 645.5 C630.1 646.0 631.4 646.7 631.8 648.3 C632.3 649.9 632.6 652.7 632.6 654.9 C632.6 657.1 632.3 660.0 631.8 661.5 C631.4 663.1 630.1 663.9 629.8 664.3"/>
<path d="M668.8 661.0 C669.2 661.4 670.5 661.8 671.2 663.0 C672.0 664.3 672.8 666.5 673.2 668.4 C673.7 670.2 673.8 672.7 673.6 674.1 C673.4 675.5 672.4 676.5 672.1 677.0"/>
<path d="M670.8 660.5 C671.2 660.8 672.5 661.3 673.2 662.5 C674.0 663.8 674.9 666.1 675.3 668.0 C675.7 669.9 675.9 672.4 675.7 673.8 C675.5 675.3 674.4 676.2 674.1 676.6"/>
<path d="M672.7 660.0 C673.2 660.3 674.5 660.8 675.3 662.0 C676.0 663.3 676.9 665.7 677.3 667.6 C677.7 669.5 677.9 672.0 677.7 673.5 C677.5 674.9 676.5 675.9 676.3 676.4"/>
<path d="M674.8 659.5 C675.2 659.8 676.6 660.3 677.3 661.5 C678.1 662.8 678.9 665.2 679.3 667.1 C679.7 669.0 679.9 671.6 679.7 673.1 C679.6 674.6 678.6 675.5 678.3 676.0"/>
<path d="M676.8 658.9 C677.2 659.2 678.6 659.7 679.3 661.0 C680.1 662.3 681.0 664.8 681.4 666.7 C681.8 668.7 681.9 671.2 681.8 672.7 C681.6 674.2 680.6 675.2 680.4 675.8"/>
<path d="M678.8 658.3 C679.3 658.7 680.6 659.2 681.4 660.5 C682.1 661.8 683.0 664.2 683.4 666.2 C683.8 668.2 684.1 670.9 683.9 672.5 C683.8 674.0 682.6 674.9 682.4 675.4"/>
<path d="M680.9 657.8 C681.3 658.2 682.6 658.7 683.4 660.0 C684.2 661.3 685.0 663.8 685.4 665.8 C685.9 667.9 686.1 670.5 686.0 672.1 C685.8 673.6 684.7 674.5 684.4 675.0"/>
<ellipse  cx="612.8" cy="654.8" rx="4.8" ry="8.6" transform="rotate(0 612.8 654.8)"/>
<path d="M624.7 644.0 L637.8 644.4 L643.3 649.7 L643.5 660.5 L637.8 666.2 L624.5 666.2"/>
<path d="M633.4 644.9 L633.6 665.6"/>
<path d="M637.8 644.4 L655.2 643.1"/>
<path d="M643.5 659.6 L657.5 659.2"/>
<ellipse  cx="641.2" cy="634.5" rx="7.9" ry="10.2" transform="rotate(15 641.2 634.5)"/>
<ellipse  cx="638.4" cy="635.5" rx="4.8" ry="7.0" transform="rotate(-25 638.4 635.5)"/>
<ellipse  cx="642.3" cy="632.6" rx="3.2" ry="5.1" transform="rotate(-20 642.3 632.6)"/>
<path d="M634.6 621.8 L648.6 619.5 L651.1 624.3"/>
<path d="M648.6 613.1 L657.7 611.9 L671.7 620.5 L672.2 630.9 L664.1 634.2"/>
<path d="M657.7 611.9 L664.5 622.0 L664.5 634.5"/>
<path d="M663.8 610.3 L679.1 604.2"/>
<path d="M655.2 642.1 C656.9 641.9 662.6 639.9 665.1 640.8 C667.7 641.7 669.8 645.1 670.5 647.4 C671.1 649.8 670.5 653.4 669.2 655.0 C667.9 656.7 663.7 657.2 662.6 657.6"/>
<path d="M655.2 642.1 L671.5 633.8"/>
<ellipse  cx="667.9" cy="670.7" rx="5.3" ry="7.9" transform="rotate(-12 667.9 670.7)"/>
<path d="M680.4 657.3 L691.8 655.4 L697.9 661.8 L696.9 672.6 L690.5 676.4 L679.1 678.9"/>
<path d="M688.0 656.1 L689.3 675.1"/>
<path d="M626.0 673.8 C628.5 672.6 635.9 668.0 641.0 666.2 C646.0 664.5 651.6 663.4 656.2 663.4 C660.9 663.4 666.8 665.8 668.9 666.2"/>
<path d="M696.9 590.0 L699.7 625.6"/>
<path d="M707.0 590.0 L708.6 625.8 L720.0 628.1"/>
<path d="M580.0 657.3 L592.7 657.3"/>
<path d="M724.0 590.0 L726.5 621.8"/>
<path d="M732.9 590.0 C733.3 591.3 733.7 595.7 735.4 597.6 C737.1 599.6 740.3 601.3 743.0 601.7 C745.8 602.1 750.4 600.4 751.9 600.2"/>
<ellipse  cx="763.1" cy="605.5" rx="7.4" ry="13.0" transform="rotate(10 763.1 605.5)"/>
<ellipse  cx="763.1" cy="605.2" rx="4.8" ry="9.1" transform="rotate(10 763.1 605.2)"/>
<path d="M742.4 602.7 L743.0 619.5 L710.0 627.1"/>
<path d="M745.8 602.7 L746.8 622.0 L756.4 618.6"/>
<path d="M773.5 601.4 L814.2 590.0"/>
<path d="M785.0 605.9 L819.3 592.3"/>
<path d="M771.0 606.5 L781.1 602.7 L793.2 617.3 L821.8 608.0"/>
<path d="M794.9 619.5 L824.3 609.3"/>
<path d="M793.2 617.3 L798.9 634.5"/>
<path d="M736.7 621.8 L749.4 638.3"/>
<path d="M718.9 626.8 L725.2 638.9 L744.3 628.1"/>
<path d="M739.5 639.8 L749.4 637.0 L758.3 638.0 L764.4 648.4 L763.4 658.6 L753.8 665.6 L746.8 663.7 L738.6 653.5 L737.7 644.6 L739.5 639.8"/>
<path d="M742.4 640.8 L742.4 648.4 L750.7 647.2 L749.4 638.3"/>
<path d="M750.7 647.2 L758.3 656.1 L763.4 656.1"/>
<path d="M742.4 648.4 L749.4 658.6 L753.2 661.1 L762.1 659.2"/>
<path d="M759.5 665.0 L762.1 698.0"/>
<path d="M762.1 698.0 L744.3 710.1"/>
<path d="M762.1 698.0 L776.1 710.1"/>
<path d="M786.2 651.0 C783.5 650.1 773.3 648.2 769.7 645.9 C766.2 643.6 765.1 640.0 764.9 637.0 C764.7 634.0 767.0 629.6 768.4 627.9 C769.9 626.2 768.4 625.7 773.5 626.8 C778.6 628.0 794.7 633.4 798.9 634.7"/>
<path d="M791.3 640.6 L798.9 636.4 L815.4 635.1 L817.0 694.4"/>
<path d="M791.3 640.8 L804.0 641.1 L815.4 637.3"/>
<path d="M791.3 640.8 L785.0 651.6 L776.7 668.8 L780.5 681.5 L796.4 695.7"/>
<path d="M798.9 643.4 L789.0 671.3 L793.8 682.7 L807.8 695.4"/>
<path d="M804.0 641.1 L801.5 644.0 L793.6 671.3 L797.9 684.3"/>
<ellipse  cx="809.7" cy="650.0" rx="4.1" ry="7.0" transform="rotate(15 809.7 650.0)"/>
<ellipse  cx="811.6" cy="651.0" rx="1.5" ry="2.3" transform="rotate(0 811.6 651.0)"/>
<ellipse  cx="811.0" cy="670.0" rx="6.4" ry="7.4" transform="rotate(0 811.0 670.0)"/>
<ellipse  cx="813.5" cy="670.3" rx="2.8" ry="4.8" transform="rotate(0 813.5 670.3)"/>
<ellipse  cx="813.2" cy="686.6" rx="4.8" ry="6.6" transform="rotate(0 813.2 686.6)"/>
<path d="M822.1 609.3 C823.3 611.6 827.8 618.0 829.7 623.3 C831.6 628.6 833.1 633.9 833.5 641.1 C833.9 648.3 833.7 660.1 832.2 666.5 C830.7 672.8 826.9 676.6 824.6 679.2 C822.3 681.7 819.3 681.3 818.2 681.7"/>
<path d="M825.0 590.0 C826.1 591.1 830.3 593.8 832.0 596.4 C833.7 598.9 834.6 603.8 835.1 605.2"/>
<path d="M829.4 631.9 L840.2 633.2 L840.9 641.1 L844.9 642.1 L844.9 666.5 L837.3 669.0 L839.8 688.1 L829.7 694.4 L818.2 691.6"/>
<path d="M768.4 710.1 L796.4 698.2"/>
<path d="M672.4 624.3 C673.7 624.2 677.2 623.8 680.0 623.5 C682.8 623.2 686.2 622.1 689.3 622.4 C692.4 622.8 694.8 623.5 698.6 625.3 C702.4 627.2 708.2 630.3 712.2 633.6 C716.1 637.0 719.5 640.7 722.3 645.5 C725.1 650.3 727.5 656.8 729.1 662.4 C730.7 668.0 731.4 673.9 732.1 679.3 C732.7 684.8 732.8 692.4 732.9 695.0"/>
<path d="M672.4 627.7 C673.7 627.8 676.9 628.1 680.0 628.5 C683.1 629.0 687.1 628.7 691.0 630.2 C695.0 631.8 699.6 634.3 703.7 637.9 C707.8 641.4 712.4 646.2 715.6 651.4 C718.7 656.6 720.8 661.9 722.3 669.2 C723.8 676.4 724.1 690.7 724.4 695.0"/>
<path d="M672.4 629.2 C673.7 629.4 676.6 629.5 680.0 630.1 C683.4 630.6 688.5 630.6 692.7 632.4 C696.9 634.1 701.3 636.7 705.4 640.4 C709.5 644.1 714.1 649.3 717.2 654.8 C720.3 660.3 722.4 666.7 724.0 673.4 C725.6 680.1 726.5 691.4 727.0 695.0"/>
<path d="M672.4 633.2 C673.7 633.9 676.6 635.3 680.0 637.2 C683.4 639.1 689.0 641.5 692.7 644.6 C696.4 647.7 699.2 651.0 702.0 655.6 C704.8 660.3 707.2 666.0 709.6 672.6 C712.0 679.1 715.3 691.2 716.4 695.0"/>
<path d="M718.9 631.1 C720.3 632.9 724.9 638.0 727.4 642.1 C729.9 646.2 732.2 650.6 734.2 655.6 C736.1 660.7 737.9 666.0 739.3 672.6 C740.6 679.1 741.7 691.2 742.2 695.0"/>
<path d="M820.3 558.1 L871.1 571.1 L889.2 564.5"/>
<path d="M871.1 571.1 L886.4 601.9 L903.5 597.5"/>
<path d="M886.4 601.9 L869.9 640.1"/>
<path d="M862.3 579.7 C862.9 579.4 864.6 577.6 866.1 577.8 C867.5 578.0 869.2 577.9 871.1 581.0 C873.1 584.1 876.9 592.4 877.7 596.2 C878.6 600.1 877.3 602.9 876.2 604.1 C875.1 605.3 873.5 605.8 871.1 603.2 C868.8 600.6 863.9 592.1 862.3 588.6 C860.6 585.1 861.2 583.7 861.2 582.3 C861.2 580.8 862.1 580.1 862.3 579.7"/>
<path d="M820.3 560.9 C823.3 562.2 832.6 564.7 838.1 568.5 C843.6 572.3 849.1 577.0 853.4 583.8 C857.6 590.5 861.0 599.5 863.5 608.9 C866.1 618.3 867.8 634.9 868.6 640.1"/>
<path d="M821.0 566.4 C823.4 567.6 831.0 569.9 835.6 573.6 C840.1 577.4 844.5 582.5 848.3 588.9 C852.1 595.2 855.9 603.2 858.4 611.7 C861.0 620.3 862.7 635.3 863.5 640.1"/>
<path d="M813.3 520.0 L816.5 557.1 L806.4 560.9 L800.0 568.5"/>
<path d="M820.1 545.4 L820.3 567.3 L823.1 585.0 L833.3 595.2 L835.8 606.6"/>
<path d="M800.0 589.9 L812.7 583.5 L821.0 581.6"/>
<path d="M812.7 583.5 L815.2 592.7 L800.0 599.0"/>
<path d="M815.2 592.7 L822.9 603.2 L833.3 597.7"/>
<path d="M800.0 611.7 L829.2 601.6"/>
<path d="M825.2 609.1 L827.7 604.9 L839.6 605.7 L844.7 610.8 L843.8 618.4 L839.6 621.0 L827.7 617.6 L825.2 612.5 L825.2 609.1"/>
<path d="M827.7 604.9 L829.5 611.6 L827.7 617.6"/>
<path d="M829.5 611.6 L839.0 611.6"/>
<ellipse  cx="840.6" cy="613.5" rx="3.2" ry="6.1" transform="rotate(0 840.6 613.5)"/>
<ellipse  cx="840.6" cy="613.5" rx="1.7" ry="3.8" transform="rotate(0 840.6 613.5)"/>
<path d="M886.9 601.1 L868.7 642.3"/>
<path d="M854.1 674.1 L844.6 697.9"/>
<path d="M868.9 642.3 C867.8 642.4 864.7 641.8 862.3 642.5 C860.0 643.3 857.2 644.3 854.9 646.8 C852.7 649.2 850.0 653.7 848.8 657.1 C847.6 660.6 847.4 664.8 847.7 667.7 C848.1 670.6 849.7 673.5 850.9 674.6 C852.1 675.7 854.3 674.3 854.9 674.3"/>
<ellipse  cx="860.0" cy="658.7" rx="10.6" ry="14.3" transform="rotate(30 860.0 658.7)"/>
<ellipse  cx="863.6" cy="659.8" rx="6.1" ry="7.2" transform="rotate(0 863.6 659.8)"/>
<ellipse  cx="865.7" cy="659.8" rx="4.0" ry="5.3" transform="rotate(0 865.7 659.8)"/>
<ellipse  cx="865.7" cy="659.8" rx="2.1" ry="3.2" transform="rotate(0 865.7 659.8)"/>
<path d="M830.1 626.7 L842.8 620.8"/>
<path d="M824.2 611.6 L829.7 627.3 L830.6 633.0"/>
<path d="M844.3 619.0 L845.4 642.3"/>
<path d="M836.9 667.9 L824.8 679.6 L824.8 692.1"/>
<path d="M838.0 667.9 L846.5 666.1"/>
<path d="M587.5 714.8 C587.8 716.6 588.0 722.5 589.1 725.6 C590.2 728.6 592.1 730.8 594.1 733.2 C596.2 735.6 600.3 738.7 601.5 739.8"/>
<ellipse  cx="599.5" cy="722.4" rx="8.9" ry="13.0" transform="rotate(-15 599.5 722.4)"/>
<ellipse  cx="601.5" cy="722.4" rx="5.3" ry="10.2" transform="rotate(-15 601.5 722.4)"/>
<path d="M610.7 715.4 L618.3 710.3 L623.4 712.2 L623.6 730.9 L614.5 736.0 L610.9 732.2 L610.7 715.4"/>
<path d="M621.1 711.6 L622.1 732.2"/>
<path d="M690.7 690.0 C691.5 692.1 695.3 698.5 695.8 702.7 C696.2 706.9 694.9 711.6 693.5 715.4 C692.0 719.3 689.3 723.9 687.1 725.8 C685.0 727.8 681.6 726.9 680.5 727.1"/>
<path d="M699.8 761.1 L710.0 734.7"/>
<path d="M570.0 713.2 L572.8 713.2"/>
<path d="M778.8 721.8 L796.6 713.5 L813.1 722.4"/>
<path d="M778.8 721.8 L772.4 748.4 L776.2 753.5 L790.2 754.8 L799.1 766.2"/>
<path d="M778.8 724.9 L799.1 730.0 L796.6 749.7 L790.2 754.8"/>
<path d="M799.1 730.0 L808.0 723.3"/>
<path d="M775.0 709.1 L781.3 705.2 L799.1 709.1 L802.9 714.1"/>
<path d="M776.2 714.4 L796.6 707.8"/>
<ellipse  cx="763.5" cy="719.9" rx="4.1" ry="12.1" transform="rotate(40 763.5 719.9)"/>
<ellipse  cx="763.5" cy="719.9" rx="2.3" ry="10.8" transform="rotate(40 763.5 719.9)"/>
<path d="M736.8 723.3 L736.8 772.6"/>
<path d="M738.4 723.3 L755.9 732.2 L750.8 747.4 L749.5 756.3 L755.9 778.9"/>
<path d="M738.4 729.6 L753.6 732.2"/>
<path d="M738.4 755.0 L748.5 751.2"/>
<path d="M737.1 766.5 L748.5 762.7"/>
<path d="M738.4 733.4 C739.6 734.5 744.0 737.5 745.7 739.8 C747.4 742.1 748.1 746.2 748.5 747.4"/>
<path d="M748.5 762.7 C748.3 763.7 748.1 767.3 747.0 769.0 C745.9 770.7 742.8 772.2 741.9 772.8"/>
<path d="M755.9 732.2 L755.9 744.9 L763.8 744.9 L766.3 756.3 L776.2 771.3"/>
<path d="M755.9 753.8 L765.0 753.8"/>
<path d="M769.9 724.6 C769.7 726.2 769.4 731.3 768.6 734.7 C767.8 738.1 765.6 743.2 765.0 744.9"/>
<path d="M738.1 722.0 L740.9 709.1 L750.8 700.4 L759.7 697.0 L762.3 690.0"/>
<path d="M759.7 697.0 L775.2 709.1"/>
<path d="M716.5 690.0 C716.6 693.2 717.8 702.7 717.2 709.1 C716.5 715.4 714.3 723.2 712.7 728.1 C711.1 733.0 708.5 736.8 707.6 738.5"/>
<path d="M725.4 690.0 C725.9 693.2 728.6 702.7 728.2 709.1 C727.8 715.4 725.9 723.2 722.9 728.1 C719.9 733.0 712.3 736.8 710.2 738.5"/>
<path d="M738.1 690.0 C737.9 694.2 739.0 708.4 736.8 715.4 C734.7 722.4 730.3 728.1 725.4 732.2 C720.5 736.2 710.6 738.5 707.6 739.8"/>
<path d="M743.8 690.0 L738.4 720.7"/>
<ellipse  cx="725.2" cy="752.3" rx="5.1" ry="7.6" transform="rotate(-10 725.2 752.3)"/>
<ellipse  cx="725.7" cy="766.9" rx="4.4" ry="6.1" transform="rotate(-20 725.7 766.9)"/>
<path d="M722.2 762.7 L729.9 772.6"/>
<path d="M700.0 724.6 C700.6 725.4 703.1 727.7 703.8 729.6 C704.6 731.5 705.1 734.1 704.4 736.0 C703.8 737.9 700.7 740.2 700.0 741.1"/>
<path d="M700.0 747.4 L707.6 741.1 L703.8 747.4 L705.1 758.9 L712.7 770.3"/>
<path d="M788.9 690.0 C790.2 690.8 793.4 694.0 796.8 695.1 C800.2 696.2 807.4 696.4 809.5 696.6"/>
<ellipse  cx="813.1" cy="691.5" rx="3.8" ry="3.8" transform="rotate(0 813.1 691.5)"/>
<path d="M814.3 695.1 L834.9 693.8"/>
<path d="M603.0 695.3 C604.8 695.3 610.7 694.1 614.1 695.3 C617.4 696.4 620.6 699.1 623.0 702.2 C625.4 705.4 627.3 710.4 628.4 714.1 C629.6 717.8 629.9 721.1 629.6 724.4 C629.4 727.8 627.4 732.5 627.0 734.1"/>
<path d="M605.2 693.3 C607.2 693.3 613.5 691.7 617.0 692.9 C620.6 694.0 623.8 696.9 626.4 700.3 C628.9 703.7 631.1 709.2 632.3 713.3 C633.5 717.5 633.6 721.6 633.3 725.2 C633.1 728.8 631.2 733.2 630.8 734.8"/>
<path d="M623.7 684.4 C625.7 684.3 632.0 682.3 635.6 683.7 C639.1 685.1 642.3 689.1 644.7 692.9 C647.2 696.6 649.1 701.8 650.4 706.2 C651.6 710.6 652.4 715.7 652.1 719.3 C651.9 722.8 650.2 725.6 648.6 727.4 C646.9 729.2 643.3 729.5 642.2 729.9"/>
<path d="M628.1 682.2 C630.2 682.3 637.2 680.6 640.7 682.5 C644.3 684.4 647.3 689.6 649.6 693.8 C651.9 698.0 653.7 703.2 654.5 707.7 C655.4 712.2 655.4 717.3 654.8 720.7 C654.2 724.1 651.7 726.9 651.1 728.1"/>
<path d="M638.8 671.9 C641.1 672.1 648.6 671.4 652.6 673.6 C656.5 675.9 660.1 680.3 662.5 685.5 C664.9 690.6 666.5 698.3 667.0 704.4 C667.5 710.6 666.3 718.5 665.5 722.2 C664.7 725.9 662.8 725.9 662.2 726.7"/>
<path d="M648.9 663.7 C651.5 664.6 660.0 666.1 664.4 669.2 C668.9 672.3 672.8 676.8 675.9 682.2 C678.9 687.6 681.7 695.8 683.0 701.5 C684.2 707.2 684.0 712.5 683.3 716.3 C682.5 720.0 681.8 722.4 678.5 724.0 C675.3 725.6 666.2 725.6 663.7 725.9"/>
<path d="M672.6 660.7 C674.9 663.1 683.1 668.6 686.7 674.8 C690.2 681.0 692.7 690.4 694.1 697.8 C695.5 705.2 695.7 714.0 695.1 719.3 C694.5 724.6 691.2 727.9 690.4 729.6"/>
<path d="M643.0 729.6 C644.4 729.6 648.4 730.2 651.9 729.6 C655.3 729.0 661.7 726.5 663.7 725.9"/>
<path d="M671.9 741.2 C673.2 740.2 677.0 736.3 679.5 735.7 C682.1 735.0 685.3 735.9 687.2 737.3 C689.1 738.8 690.3 743.3 691.0 744.5"/>
<path d="M673.8 739.8 C675.1 738.9 678.9 734.9 681.4 734.3 C683.9 733.7 687.1 734.5 689.0 736.0 C690.9 737.5 692.2 742.0 692.8 743.2"/>
<path d="M675.7 738.4 C676.9 737.5 680.7 733.6 683.3 732.9 C685.8 732.3 689.0 733.2 690.9 734.6 C692.8 736.1 694.1 740.6 694.7 741.8"/>
<path d="M677.5 737.1 C678.8 736.2 682.6 732.2 685.1 731.6 C687.7 731.0 690.8 731.8 692.8 733.3 C694.7 734.8 695.9 739.3 696.6 740.5"/>
<path d="M679.4 735.7 C680.6 734.8 684.5 730.9 687.0 730.2 C689.5 729.6 692.7 730.5 694.6 731.9 C696.5 733.4 697.8 737.9 698.4 739.1"/>
<path d="M681.2 734.4 C682.5 733.5 686.3 729.5 688.9 728.9 C691.4 728.3 694.6 729.1 696.5 730.6 C698.4 732.1 699.6 736.6 700.3 737.8"/>
<path d="M630.6 752.0 L633.7 758.8"/>
<path d="M633.7 750.3 L636.6 757.2"/>
<path d="M636.6 748.8 L639.1 755.5"/>
<path d="M658.4 734.6 C659.0 734.1 660.9 732.2 662.2 731.8 C663.5 731.5 665.3 731.5 666.4 732.3 C667.5 733.0 668.4 734.9 668.7 736.5 C669.0 738.2 668.9 740.8 668.4 742.2 C667.9 743.5 666.9 744.5 665.8 744.5 C664.8 744.6 663.4 742.5 662.2 742.7 C661.0 742.8 659.0 744.9 658.4 745.4"/>
<path d="M664.3 732.7 C664.8 733.4 666.6 735.4 667.0 736.9 C667.5 738.4 667.3 740.6 667.0 741.8 C666.7 743.0 665.6 743.8 665.3 744.2"/>
<ellipse  cx="677.4" cy="746.9" rx="6.8" ry="8.0" transform="rotate(-28 677.4 746.9)"/>
<ellipse  cx="678.9" cy="745.8" rx="5.2" ry="6.6" transform="rotate(-28 678.9 745.8)"/>
<path d="M679.5 729.5 L688.0 725.2 L693.9 721.9 L701.6 725.2 L704.3 731.8 L704.3 737.1 L697.3 741.2 L694.8 745.4"/>
<path d="M689.7 725.2 L693.1 728.5 L695.6 736.9 L696.6 741.2"/>
<path d="M693.1 728.5 L701.6 725.2"/>
<path d="M687.3 744.7 L688.2 764.0"/>
<path d="M691.4 745.6 L692.2 763.3"/>
<path d="M695.0 745.6 L693.9 762.5"/>
<path d="M696.6 741.2 L707.6 739.6 L707.6 744.7 L700.0 749.8 L699.0 762.5"/>
<path d="M700.0 749.8 C700.7 751.0 702.6 754.3 704.3 757.2 C705.9 760.2 709.1 765.7 710.0 767.4"/>
</g>
<g fill="#000" stroke="none">

</g>
</g>
<!--/PUMP-->
<!--FIT-->
<g id="fittings" fill="none" stroke="#000" stroke-linejoin="round">
<defs><g id="fit">
<path d="M1.3 -5.1 L24.1 -6.4 M0.6 5.7 L22.9 5.1 M1.3 -5.1 C-0.5 -2 -0.5 2 0.6 5.7 M0.6 0.6 L3.8 0 L6.4 5.1" stroke-width="1.1"/>
<path d="M24.1 -6.4 C25.5 -3 26 1 25.4 5.7" stroke-width="2"/>
<path d="M21.6 -8.3 L30.5 -8.3 L33.7 -5.7 L34.3 4.4 L31.8 7.6 L24.1 7.6" stroke-width="1.1"/>
<path d="M21 -7.6 L29.2 -16.5 L40 -16.5 L48.3 -8.3 L48.9 8.9 L40.7 16.5 L30.5 16.5 L21.6 8.3 M29.2 -16.5 L38.1 -8.3 L48.3 -8.3 M38.1 -8.3 L38.1 8.3 L30.5 16.5 M38.1 8.3 L48.9 8.9" stroke-width="1.1"/>
<path d="M44.5 -12.7 L52.1 -12.1 C55.5 -9 57.5 -5 57.2 -1.9 C57 2 57 5 55.9 8.3 C54 11 52 13 49.6 13.3 L44.5 13.3" stroke-width="1.1"/>
</g></defs>
<use href="#fit" transform="translate(464.2 658.3) rotate(0)"/>
<use href="#fit" transform="translate(446.2 718.3) rotate(-9)"/>
<use href="#fit" transform="translate(445.2 784.5) rotate(-17)"/>
<use href="#fit" transform="translate(522.2 874.5) rotate(-31)"/>
<path stroke-width="1.2" d="M527.1 657.4 L541.9 657.4 M546.2 657.4 L550 657.4 M554.3 657.4 L570 657.4 M574.3 657.4 L592.9 657.4 M511.9 713.4 L528 713.4 M531.9 713.4 L535.7 713.4 M540 713.4 L555.7 713.4 M558.1 713.4 L572.9 713.4 M504.2 767.3 L517.5 761.4 M522.2 759.4 L524.7 758.2 M529.1 756.5 L543.7 750.3 M547.1 749.6 L562.7 743.4 M574.3 842.6 L584.8 833.1 M588.3 829.5 L591 828.3 M594.3 824.5 L607.9 813.1"/>
<g></g></g>
<!--/FIT-->
</svg>
</body></html>
